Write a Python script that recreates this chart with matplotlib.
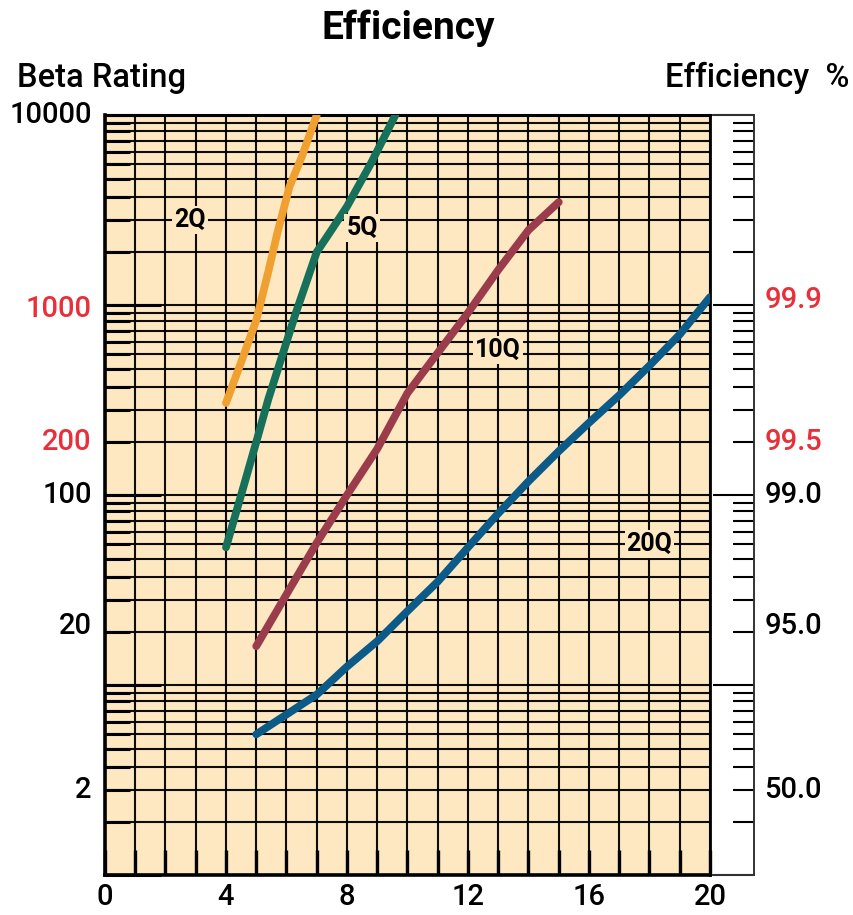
import matplotlib
matplotlib.use("Agg")
import matplotlib.pyplot as plt
import numpy as np
from matplotlib.ticker import FixedLocator, MultipleLocator, NullFormatter

plt.rcParams['font.family'] = ['Roboto', 'DejaVu Sans']

# filter size (x) vs beta rating (y)
x_2q = [4, 4.5, 5, 5.4, 5.7, 6.1, 6.5, 7]
y_2q = [305, 500, 830, 1500, 2400, 4200, 6000, 10000]

x_5q = [4, 4.5, 5, 5.4, 6.3, 7, 7.5, 8, 8.8, 9.6]
y_5q = [53, 100, 190, 320, 900, 1900, 2500, 3300, 5600, 10000]

x_10q = [5, 6, 7, 8, 9, 10, 11, 12, 13, 14, 15]
y_10q = [16, 30, 56, 100, 175, 344, 560, 910, 1530, 2480, 3480]

x_20q = [5, 7, 8, 9, 10, 11, 12, 13, 14, 15, 16, 17, 18, 19, 20]
y_20q = [5.5, 8.9, 12.5, 17, 24.5, 35, 53, 80, 118, 170, 240, 335, 480, 700, 1100]

series = [
    ("2Q", x_2q, y_2q, "#F0A030", (2.8, 2800)),
    ("5Q", x_5q, y_5q, "#16705A", (8.5, 2550)),
    ("10Q", x_10q, y_10q, "#9A3C4C", (13.0, 580)),
    ("20Q", x_20q, y_20q, "#0B5A88", (18.0, 55)),
]

# axis labels
beta_labels = ["10000", "1000", "200", "100", "20", "2"]
beta_at = [10000, 950, 190, 100, 20.5, 2.8]
beta_colors = ["black", "#E8303A", "#E8303A", "black", "black", "black"]

eff_labels = ["99.9", "99.5", "99.0", "95.0", "50.0"]
eff_at = [1060, 190, 100, 20.5, 2.8]
eff_colors = ["#E8303A", "#E8303A", "black", "black", "black"]

x_ticks = [0, 4, 8, 12, 16, 20]

bg = "#FDE8C2"
W, H = 854, 915

fig = plt.figure(figsize=(W / 100, H / 100), dpi=100)
left, right, top, bottom = 105 / W, 710 / W, 115 / H, 875 / H
ax = fig.add_axes([left, 1 - bottom, right - left, bottom - top])
ax.set_facecolor(bg)
ax.set_yscale("log")
ax.set_xlim(0, 20)
ax.set_ylim(1, 10000)

# minor lines: each decade split into 10 equal steps
decades = [1, 10, 100, 1000]
minor_vals = [d * (1 + 0.9 * k) for d in decades for k in range(1, 10)]
ax.yaxis.set_major_locator(FixedLocator([1, 10, 100, 1000, 10000]))
ax.yaxis.set_minor_locator(FixedLocator(minor_vals))
ax.yaxis.set_major_formatter(NullFormatter())
ax.yaxis.set_minor_formatter(NullFormatter())

ax.xaxis.set_major_locator(FixedLocator(x_ticks))
ax.xaxis.set_minor_locator(MultipleLocator(1))
ax.set_xticklabels([str(t) for t in x_ticks], fontsize=21, fontweight="medium")

ax.grid(which="both", axis="both", color="black", linewidth=1.5, alpha=0.95)
ax.set_axisbelow(True)

ax.tick_params(axis="x", which="both", direction="in", length=18, width=2.4,
               top=False, pad=6)
ax.tick_params(axis="y", which="major", direction="in", length=40, width=2.2,
               right=False)
ax.tick_params(axis="y", which="minor", direction="in", length=18, width=2.2,
               right=False)

for side, lw in [("left", 2.6), ("bottom", 2.6), ("top", 2.2), ("right", 2.0)]:
    ax.spines[side].set_linewidth(lw)
    ax.spines[side].set_color("black")

for name, xs, ys, col, (lx, ly) in series:
    ax.plot(xs, ys, color=col, linewidth=5.6, solid_capstyle="round",
            solid_joinstyle="round", zorder=3)
    ax.text(lx, ly, name, fontsize=18, fontweight="bold", ha="center",
            va="center", zorder=4,
            bbox=dict(facecolor=bg, edgecolor="none", pad=1.5))

ytr = ax.get_yaxis_transform()
for lab, v, c in zip(beta_labels, beta_at, beta_colors):
    ax.text(-0.022, v, lab, transform=ytr, ha="right", va="center",
            fontsize=21, fontweight="medium", color=c)
for lab, v, c in zip(eff_labels, eff_at, eff_colors):
    ax.text(1.09, v, lab, transform=ytr, ha="left", va="center",
            fontsize=21, fontweight="medium", color=c)

# efficiency scale strip on the right
ax2 = fig.add_axes([713 / W, 1 - bottom, 41 / W, bottom - top])
ax2.set_yscale("log")
ax2.set_ylim(1, 10000)
ax2.set_facecolor("white")
ax2.set_xticks([])
ax2.yaxis.set_major_locator(FixedLocator([1, 10, 100, 1000, 10000]))
ax2.yaxis.set_minor_locator(FixedLocator(minor_vals))
ax2.yaxis.set_major_formatter(NullFormatter())
ax2.yaxis.set_minor_formatter(NullFormatter())
ax2.yaxis.tick_right()
ax2.tick_params(axis="y", which="major", direction="in", length=29.5, width=1.5)
ax2.tick_params(axis="y", which="minor", direction="in", length=15, width=1.5)
ax2.spines["left"].set_visible(False)
for side in ["right", "top", "bottom"]:
    ax2.spines[side].set_linewidth(1.4)
    ax2.spines[side].set_color("#333333")

fig.text(408 / W, 1 - 28 / H, "Efficiency", ha="center", va="center",
         fontsize=28, fontweight="bold")
fig.text(17 / W, 1 - 78 / H, "Beta Rating", ha="left", va="center",
         fontsize=23.5, fontweight="medium")
fig.text(849 / W, 1 - 78 / H, "Efficiency  %", ha="right", va="center",
         fontsize=23.5, fontweight="medium")

fig.savefig("out.png", dpi=100)
